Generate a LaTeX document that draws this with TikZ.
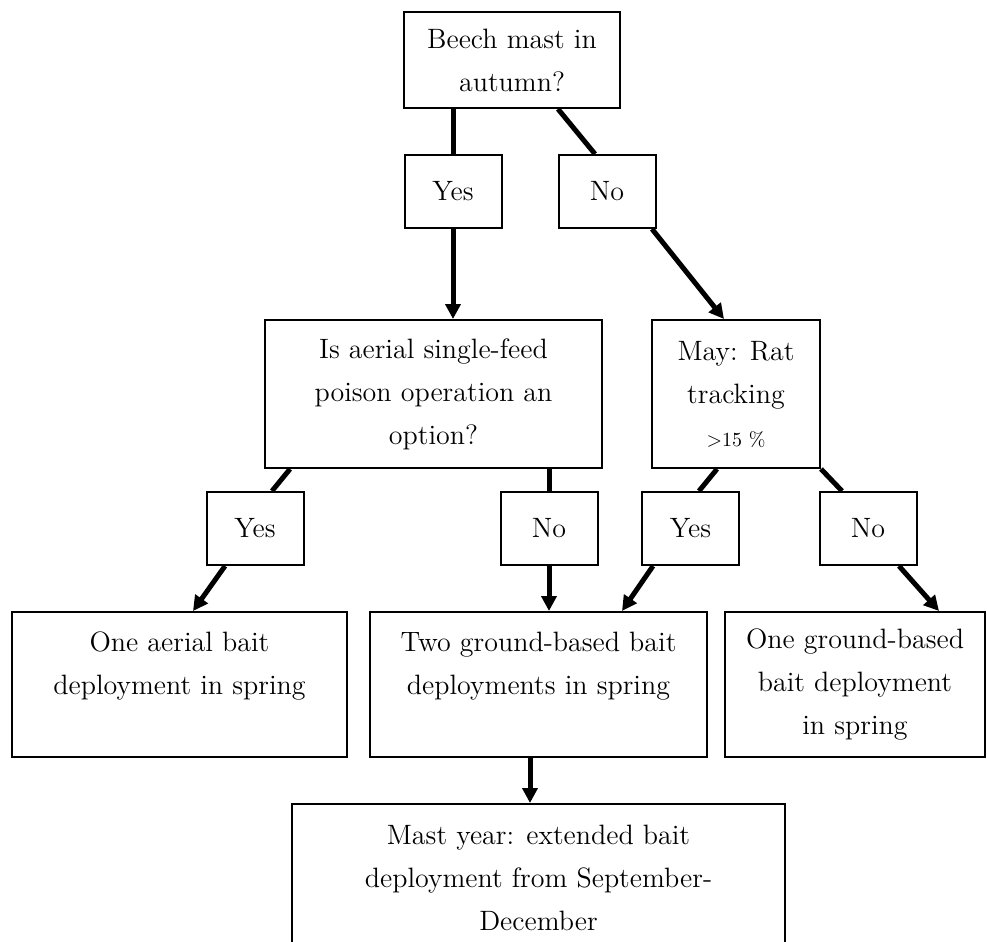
\documentclass[tikz,border=0pt]{standalone}
\usepackage{tikz}
\usetikzlibrary{arrows.meta}

\begin{document}
\begin{tikzpicture}[x=0.5pt, y=-0.5pt,
  box/.style={draw, line width=1pt, inner sep=0pt, align=center, font=\fontsize{14}{21.5}\selectfont},
  ansbox/.style={box, minimum width=48.5pt, minimum height=36.5pt},
  resbox/.style={box, minimum height=72.5pt},
  link/.style={line width=2.5pt},
  flow/.style={link, -{Triangle[length=7.5pt,width=7.5pt]}}]
\useasboundingbox (0,0) rectangle (987,942);
% questions
\node[box, minimum width=108pt, minimum height=48pt] (beech) at (512,60) {Beech mast in\\autumn?};
\node[box, minimum width=168.5pt, minimum height=74pt] (aerial) at (433.5,394) {Is aerial single-feed\\poison operation an\\option?};
\node[box, minimum width=84pt, minimum height=74pt] (may) at (736,394) {May: Rat\\tracking\\{\fontsize{10}{21.5}\selectfont\textgreater15 \%}};
% answers
\node[ansbox] (yes1) at (453,191.5) {Yes};
\node[ansbox] (no1)  at (607,191.5) {No};
\node[ansbox] (yes2) at (255,528.5) {Yes};
\node[ansbox] (no2)  at (549,528.5) {No};
\node[ansbox] (yes3) at (690.5,528.5) {Yes};
\node[ansbox] (no3)  at (868,528.5) {No};
% outcomes
\node[resbox, minimum width=167.5pt] (oneaerial) at (179.5,684.5) {One aerial bait\\deployment in spring\\\mbox{}};
\node[resbox, minimum width=168.5pt] (twoground) at (538.5,684.5) {Two ground-based bait\\deployments in spring\\\mbox{}};
\node[resbox, minimum width=130pt] (oneground) at (855,684.5) {One ground-based\\bait deployment\\in spring};
\node[box, minimum width=246.5pt, minimum height=74pt] (mastyear) at (538.5,878) {Mast year: extended bait\\deployment from September-\\December};
% connectors
\draw[link] (yes1.north |- beech.south) -- (yes1.north);
\draw[link] ([xshift=23pt]beech.south) -- ([xshift=-6pt]no1.north);
\draw[flow] (yes1.south) -- (yes1.south |- aerial.north);
\draw[flow] ([xshift=22.5pt]no1.south) -- ([xshift=-6pt]may.north);
\draw[link] ([xshift=-71.75pt]aerial.south) -- ([xshift=8.5pt]yes2.north);
\draw[flow] ([xshift=-15pt]yes2.south) -- ([xshift=6.75pt]oneaerial.north);
\draw[link] (no2.north |- aerial.south) -- (no2.north);
\draw[flow] (no2.south) -- (no2.south |- twoground.north);
\draw[link] ([xshift=-9.5pt]may.south) -- ([xshift=4.25pt]yes3.north);
\draw[flow] ([xshift=-18.75pt]yes3.south) -- ([xshift=41.75pt]twoground.north);
\draw[link] (may.south east) -- ([xshift=-13pt]no3.north);
\draw[flow] ([xshift=15.5pt]no3.south) -- ([xshift=42pt]oneground.north);
\draw[flow] ([xshift=-4.25pt]twoground.south) -- ([xshift=-4.25pt]twoground.south |- mastyear.north);
\end{tikzpicture}
\end{document}
